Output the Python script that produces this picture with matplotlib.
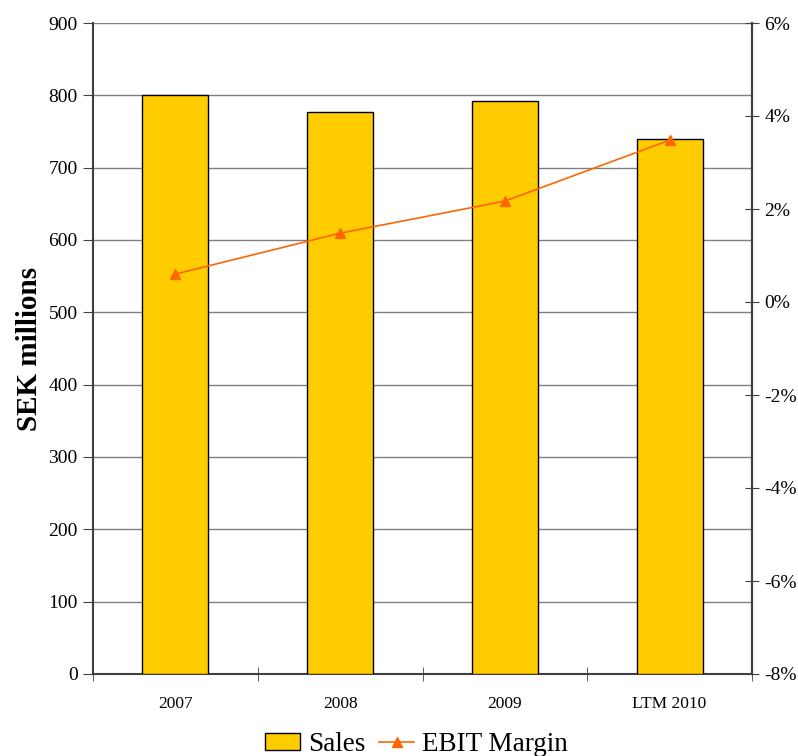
import matplotlib
matplotlib.use("Agg")
import matplotlib.pyplot as plt
import numpy as np
from matplotlib.ticker import FuncFormatter

# chart values
categories = ["2007", "2008", "2009", "LTM 2010"]
sales = [800, 777, 792, 739]              # SEK millions
ebit_margin = [0.6, 1.48, 2.17, 3.48]     # percent

plt.rcParams['font.family'] = ['Liberation Serif', 'DejaVu Serif']

fig = plt.figure(figsize=(7.98, 7.56), dpi=100)
ax = fig.add_axes([93 / 798, 1 - 674 / 756, 659 / 798, 651 / 756])

x = np.arange(len(categories))
bars = ax.bar(x, sales, width=0.40, color="#FFCC00", edgecolor="black",
              linewidth=1.0, zorder=3, label="Sales")
ax.set_xlim(-0.5, len(categories) - 0.5)
ax.set_ylim(0, 900)
ax.set_yticks(range(0, 901, 100))
ax.yaxis.grid(True, color="#808080", linewidth=1.0, zorder=0)
ax.set_axisbelow(True)

ax.set_xticks(x)
ax.set_xticklabels(categories, fontsize=12.5)
ax.tick_params(axis="x", length=0, pad=16)
ax.set_xticks(np.arange(-0.5, len(categories)), minor=True)
ax.tick_params(axis="x", which="minor", direction="inout", length=10, color="#404040")
ax.tick_params(axis="y", direction="out", length=7, labelsize=14, color="#404040", pad=4)
ax.set_ylabel("SEK millions", fontsize=21, fontweight="bold", labelpad=4)

ax.spines["top"].set_visible(False)
for side in ["left", "bottom", "right"]:
    ax.spines[side].set_color("#404040")
    ax.spines[side].set_linewidth(1.5)

ax2 = ax.twinx()
line, = ax2.plot(x, ebit_margin, color="#FF6600", linewidth=1.2, marker="^",
                 markersize=7, label="EBIT Margin", zorder=4)
ax2.set_ylim(-8, 6)
ax2.set_yticks(range(-8, 7, 2))
ax2.yaxis.set_major_formatter(FuncFormatter(lambda v, p: f"{int(v)}%"))
ax2.tick_params(axis="y", direction="inout", length=10, labelsize=14, color="#404040", pad=4)
for side in ["top", "left", "bottom"]:
    ax2.spines[side].set_visible(False)
ax2.spines["right"].set_color("#404040")
ax2.spines["right"].set_linewidth(1.5)

fig.legend([bars, line], ["Sales", "EBIT Margin"], loc="lower center",
           bbox_to_anchor=(0.522, -0.034), ncol=2, frameon=False, fontsize=19.5,
           handlelength=1.3, handleheight=0.6, handletextpad=0.3, columnspacing=0.5)

fig.savefig("out.png", dpi=100)
